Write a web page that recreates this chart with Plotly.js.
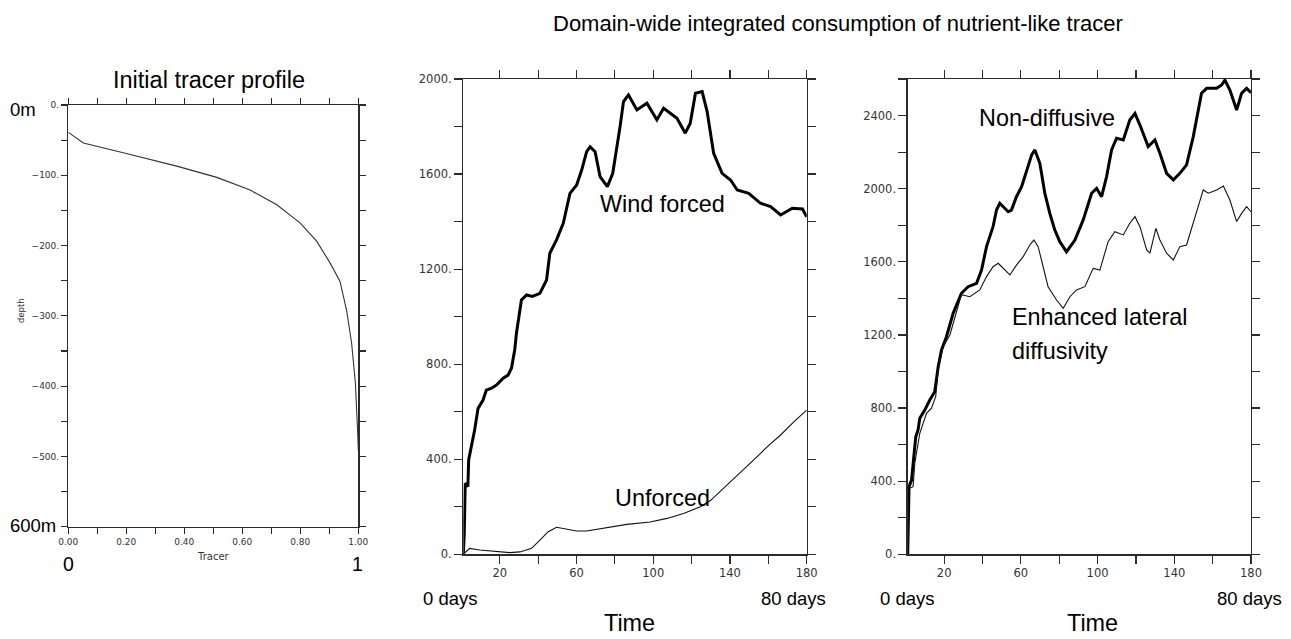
<!DOCTYPE html>
<html>
<head>
<meta charset="utf-8">
<script src="https://cdn.plot.ly/plotly-3.0.1.min.js"></script>
<style>html,body{margin:0;padding:0;background:#fff;}#chart{width:1291px;height:639px;}</style>
</head>
<body>
<div id="chart"></div>
<script>
// ---- Data ----
// Initial tracer profile (tracer value vs depth in m)
var profileTracer = [0, 0.052, 0.2, 0.374, 0.512, 0.627, 0.719, 0.8, 0.857, 0.903, 0.937, 0.96, 0.977, 0.99, 0.998, 1.0];
var profileDepth  = [-39, -54, -69, -87, -103, -121, -142, -168, -194, -225, -251, -293, -339, -396, -467, -491];

// Middle panel: wind forced vs unforced
var windTime = [1, 1.5, 2, 3.4, 3.8, 5.2, 6.9, 8.7, 11.3, 13, 15.7, 18.3, 21.8, 24.3, 26.1, 27.8, 28.7, 31.3, 34, 37, 40.9, 44.4, 46.1, 49.6, 53.1, 56.6, 60.1, 62.7, 65.3, 67.1, 69.7, 72.3, 76.1, 78.9, 81, 82.7, 84.5, 87.1, 91.5, 96.7, 101.9, 105.4, 112.4, 116.7, 119.3, 122, 125.5, 128.1, 131.5, 135.9, 140.3, 143.8, 149.8, 155.9, 161.2, 166.4, 172.5, 177.8, 180];
var windForced = [0, 88, 299, 285, 397, 453, 523, 614, 649, 691, 699, 712, 741, 754, 783, 860, 930, 1070, 1091, 1085, 1098, 1154, 1267, 1323, 1393, 1519, 1554, 1617, 1694, 1715, 1694, 1589, 1547, 1603, 1701, 1799, 1905, 1933, 1870, 1898, 1828, 1877, 1835, 1772, 1814, 1940, 1947, 1863, 1687, 1603, 1575, 1533, 1519, 1477, 1463, 1428, 1456, 1453, 1420];

var unforcedTime = [1, 4.3, 9.5, 16.5, 25.2, 30.5, 36.6, 40.9, 45.3, 49.6, 53.1, 60.1, 65.3, 75.8, 86.2, 98.4, 107.2, 115.8, 124.6, 129.8, 138.5, 145.5, 152.4, 159.5, 166.4, 173.4, 180];
var unforced = [0, 25, 18, 14, 7, 10, 25, 60, 95, 114, 109, 98, 98, 112, 126, 136, 151, 172, 200, 226, 292, 341, 397, 453, 502, 558, 607];

// Right panel: non-diffusive vs enhanced lateral diffusivity
var nonDiffTime = [1, 1.2, 1.7, 3, 4.2, 5.2, 6.4, 7.3, 9.9, 12.5, 15.1, 16.9, 18.6, 21.2, 24.7, 29, 32.5, 36.9, 39.5, 42.1, 45.5, 47.3, 49, 53.4, 55.1, 57.7, 60.4, 63, 65.6, 67.3, 69.9, 72.5, 75.1, 77.7, 80.3, 83.8, 88.2, 92.5, 96.9, 99.5, 102.1, 104.7, 107.3, 109.9, 113.4, 116.8, 119.5, 122.1, 126.4, 129.9, 132.5, 136, 139.5, 142.9, 146.4, 149.9, 154.2, 156.9, 162.1, 164.7, 166.4, 169, 172.5, 175.1, 177.7, 180];
var nonDiffusive = [0, 96, 370, 406, 534, 643, 680, 744, 789, 844, 889, 1026, 1117, 1190, 1318, 1428, 1464, 1482, 1555, 1683, 1792, 1883, 1920, 1874, 1883, 1956, 2011, 2102, 2184, 2212, 2139, 1975, 1865, 1774, 1710, 1655, 1719, 1829, 1975, 2002, 1956, 2066, 2212, 2276, 2267, 2376, 2412, 2348, 2230, 2267, 2194, 2084, 2048, 2084, 2130, 2285, 2522, 2549, 2549, 2567, 2594, 2540, 2430, 2522, 2549, 2525];

var enhancedTime = [1, 1.7, 3.8, 4.7, 7.3, 10.8, 13.4, 15.6, 16.9, 19.5, 23, 29, 33.4, 38.6, 42.1, 45.5, 48.2, 50.8, 54.3, 57.7, 61.2, 64.7, 66.8, 69, 71.6, 74.2, 78.6, 82.1, 85.6, 89, 93.4, 97.7, 101.2, 105.5, 109, 113.4, 116.8, 119.5, 122.1, 125.6, 127.3, 130.4, 132.5, 136, 139.5, 142.9, 146.4, 150.8, 155.1, 157.7, 162.1, 165.6, 169, 172.5, 175.1, 177.7, 180];
var enhanced = [0, 360, 370, 498, 662, 771, 799, 862, 1010, 1136, 1200, 1420, 1409, 1446, 1519, 1573, 1592, 1564, 1528, 1582, 1628, 1692, 1719, 1683, 1573, 1464, 1391, 1346, 1409, 1446, 1464, 1564, 1555, 1710, 1765, 1747, 1811, 1847, 1792, 1665, 1647, 1783, 1719, 1647, 1610, 1683, 1692, 1847, 1993, 1975, 1993, 2015, 1938, 1820, 1865, 1902, 1874];

// Tick labels
var tracerTickVals = [0, 0.1, 0.2, 0.3, 0.4, 0.5, 0.6, 0.7, 0.8, 0.9, 1.0];
var tracerTickText = ["0.00", "", "0.20", "", "0.40", "", "0.60", "", "0.80", "", "1.00"];
var depthTickVals = [0, -50, -100, -150, -200, -250, -300, -350, -400, -450, -500, -550, -600];
var depthTickText = ["0.", "", "\u2212100.", "", "\u2212200.", "", "\u2212300.", "", "\u2212400.", "", "\u2212500.", "", ""];
var timeTickVals = [20, 40, 60, 80, 100, 120, 140, 160, 180];
var timeTickText = ["20", "", "60", "", "100", "", "140", "", "180"];
var midTickVals = [0, 200, 400, 600, 800, 1000, 1200, 1400, 1600, 1800, 2000];
var midTickText = ["0.", "", "400.", "", "800.", "", "1200.", "", "1600.", "", "2000."];
var rightTickVals = [0, 200, 400, 600, 800, 1000, 1200, 1400, 1600, 1800, 2000, 2200, 2400, 2600];
var rightTickText = ["0.", "", "400.", "", "800.", "", "1200.", "", "1600.", "", "2000.", "", "2400.", ""];

// ---- Layout helpers ----
var W = 1291, H = 639;
function px(x) { return x / W; }
function py(y) { return 1 - y / H; }

var LABEL_FONT = "Liberation Sans, Arial, sans-serif";
var TICK_FONT = "DejaVu Sans, sans-serif";

function axisBase(extra) {
  var a = {
    showline: true, linecolor: "#2b2b2b", linewidth: 1.3,
    mirror: "allticks", ticks: "outside", ticklen: 8, tickwidth: 1.2, tickcolor: "#2b2b2b",
    showgrid: false, zeroline: false, fixedrange: true,
    tickfont: {family: TICK_FONT, size: 11.5, color: "#333"},
    tickmode: "array"
  };
  for (var k in extra) a[k] = extra[k];
  return a;
}

var traces = [
  {x: profileTracer, y: profileDepth, xaxis: "x", yaxis: "y", mode: "lines",
   line: {color: "#333", width: 1.1}, hoverinfo: "skip"},
  {x: windTime, y: windForced, xaxis: "x2", yaxis: "y2", mode: "lines",
   line: {color: "#000", width: 3}, hoverinfo: "skip"},
  {x: unforcedTime, y: unforced, xaxis: "x2", yaxis: "y2", mode: "lines",
   line: {color: "#111", width: 1.1}, hoverinfo: "skip"},
  {x: nonDiffTime, y: nonDiffusive, xaxis: "x3", yaxis: "y3", mode: "lines",
   line: {color: "#000", width: 3}, hoverinfo: "skip"},
  {x: enhancedTime, y: enhanced, xaxis: "x3", yaxis: "y3", mode: "lines",
   line: {color: "#111", width: 1.1}, hoverinfo: "skip"}
];

function ann(text, x, y, size, extra) {
  var a = {text: text, x: px(x), y: py(y), xref: "paper", yref: "paper",
    showarrow: false, xanchor: "center", yanchor: "middle",
    font: {family: LABEL_FONT, size: size, color: "#000"}};
  for (var k in extra) a[k] = extra[k];
  return a;
}

var layout = {
  width: W, height: H,
  margin: {l: 0, r: 0, t: 0, b: 0},
  paper_bgcolor: "#fff", plot_bgcolor: "#fff",
  showlegend: false,
  xaxis: axisBase({domain: [px(68.3), px(358.3)], range: [0, 1], anchor: "y",
    tickvals: tracerTickVals, ticktext: tracerTickText, ticklen: 6,
    tickfont: {family: TICK_FONT, size: 9, color: "#333"}}),
  yaxis: axisBase({domain: [py(526.7), py(105)], range: [-600, 0], anchor: "x",
    tickvals: depthTickVals, ticktext: depthTickText, ticklen: 6,
    tickfont: {family: TICK_FONT, size: 9, color: "#333"}}),
  xaxis2: axisBase({domain: [px(463.3), px(806.7)], range: [1, 180], anchor: "y2",
    tickvals: timeTickVals, ticktext: timeTickText}),
  yaxis2: axisBase({domain: [py(554.3), py(79)], range: [0, 2000], anchor: "x2",
    tickvals: midTickVals, ticktext: midTickText}),
  xaxis3: axisBase({domain: [px(907.7), px(1251)], range: [1, 180], anchor: "y3",
    tickvals: timeTickVals, ticktext: timeTickText}),
  yaxis3: axisBase({domain: [py(554.3), py(79)], range: [0, 2600], anchor: "x3",
    tickvals: rightTickVals, ticktext: rightTickText}),
  annotations: [
    ann("Domain-wide integrated consumption of nutrient-like tracer", 838, 24, 22),
    ann("Initial tracer profile", 208.5, 80, 23.5),
    ann("0m", 23.3, 109, 18.5),
    ann("600m", 33.3, 525, 18.5),
    ann("0", 68, 564, 19.5),
    ann("1", 357, 564, 19.5),
    ann("Tracer", 213, 556, 10, {font: {family: TICK_FONT, size: 10, color: "#333"}}),
    ann("depth", 21, 311, 8.5, {textangle: -90, font: {family: TICK_FONT, size: 8.5, color: "#333"}}),
    ann("Wind forced", 662.5, 204, 23.4),
    ann("Unforced", 662.5, 497.5, 23.4),
    ann("0 days", 450, 598, 18.5),
    ann("80 days", 794, 598, 18.5),
    ann("Time", 629, 622.5, 23.4),
    ann("Non-diffusive", 1047, 117.5, 23.4),
    ann("Enhanced lateral", 1010, 317.5, 23.4, {xanchor: "left"}),
    ann("diffusivity", 1010, 351, 23.4, {xanchor: "left"}),
    ann("0 days", 907, 598, 18.5),
    ann("80 days", 1249, 598, 18.5),
    ann("Time", 1092.5, 623, 23.4)
  ]
};

Plotly.newPlot("chart", traces, layout, {staticPlot: true, displayModeBar: false});
</script>
</body>
</html>
